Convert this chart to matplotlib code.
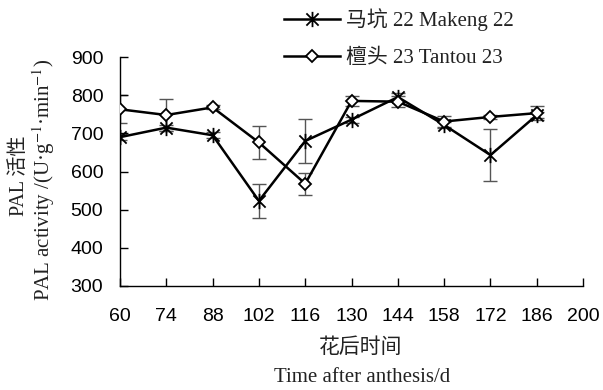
import matplotlib
matplotlib.use("Agg")
import matplotlib.pyplot as plt
from matplotlib.path import Path
from matplotlib.font_manager import FontProperties

plt.rcParams['mathtext.fontset'] = 'stix'

days = [60, 74, 88, 102, 116, 130, 144, 158, 172, 186]
makeng = [690, 715, 695, 523, 680, 736, 795, 722, 643, 748]
makeng_err = [8, 8, 8, 45, 57, 8, 10, 8, 68, 8]
tantou = [763, 748, 768, 676, 568, 785, 783, 731, 743, 753]
tantou_err = [37, 41, 5, 44, 29, 13, 14, 14, 6, 18]

xticks = [60, 74, 88, 102, 116, 130, 144, 158, 172, 186, 200]
yticks = [300, 400, 500, 600, 700, 800, 900]

label_makeng = "马坑 22 Makeng 22"
label_tantou = "檀头 23 Tantou 23"

serif_cjk = ['Liberation Serif', 'Noto Sans CJK SC']
text_color = '#222222'

# asterisk marker: an X crossed by a vertical stroke
star = Path([(-1, -1), (1, 1), (-1, 1), (1, -1), (0, -1.25), (0, 1.25)],
            [Path.MOVETO, Path.LINETO, Path.MOVETO, Path.LINETO,
             Path.MOVETO, Path.LINETO])

fig = plt.figure(figsize=(6.03, 3.90), dpi=100)
ax = fig.add_axes([0.199, 0.2667, 0.768, 0.5871])

ax.errorbar(days, makeng, yerr=makeng_err, fmt='none', ecolor='#555555',
            elinewidth=1.0, capsize=5, capthick=1.0, zorder=1)
ax.errorbar(days, tantou, yerr=tantou_err, fmt='none', ecolor='#555555',
            elinewidth=1.0, capsize=5, capthick=1.0, zorder=1)

ax.plot(days, makeng, color='black', lw=1.8, marker=star, markersize=11,
        markeredgewidth=1.3, markeredgecolor='black', label=label_makeng,
        zorder=3)
ax.plot(days, tantou, color='black', lw=1.8, marker='D', markersize=6.5,
        markerfacecolor='white', markeredgewidth=1.3, markeredgecolor='black',
        label=label_tantou, zorder=3)

ax.set_xlim(60, 200)
ax.set_ylim(300, 900)
ax.set_xticks(xticks)
ax.set_yticks(yticks)
ax.set_xticklabels([str(t) for t in xticks], fontfamily='Liberation Sans',
                   fontsize=14)
ax.set_yticklabels([str(t) for t in yticks], fontfamily='Liberation Sans',
                   fontsize=14)
ax.tick_params(axis='x', direction='in', length=6, width=1.0, pad=16)
ax.tick_params(axis='y', direction='in', length=6, width=1.0, pad=12)

ax.spines['top'].set_visible(False)
ax.spines['right'].set_visible(False)
for s in ('left', 'bottom'):
    ax.spines[s].set_linewidth(1.0)

fig.text(361 / 603, 1 - 348 / 390, "花后时间", ha='center', va='center',
         family=serif_cjk, fontsize=15, color=text_color)
fig.text(362 / 603, 1 - 378 / 390, "Time after anthesis/d", ha='center',
         va='center', family=serif_cjk, fontsize=15, color=text_color)

fig.text(20 / 603, 1 - 176 / 390, "PAL 活性", rotation=90, ha='center',
         va='center', family=serif_cjk, fontsize=14.5, color=text_color)
fig.text(44 / 603, 1 - 180 / 390,
         "PAL activity /(U·g$^{-1}$·min$^{-1}$)", rotation=90,
         ha='center', va='center', family=serif_cjk, fontsize=15,
         color=text_color)

leg = fig.legend(loc='upper left', bbox_to_anchor=(280 / 603, 1 - 4 / 390),
                 frameon=False, prop=FontProperties(family=serif_cjk, size=15),
                 handlelength=2.7, handletextpad=0.25, labelspacing=0.85,
                 borderaxespad=0, borderpad=0.2)
for t in leg.get_texts():
    t.set_color(text_color)

fig.savefig("out.png", dpi=100)
